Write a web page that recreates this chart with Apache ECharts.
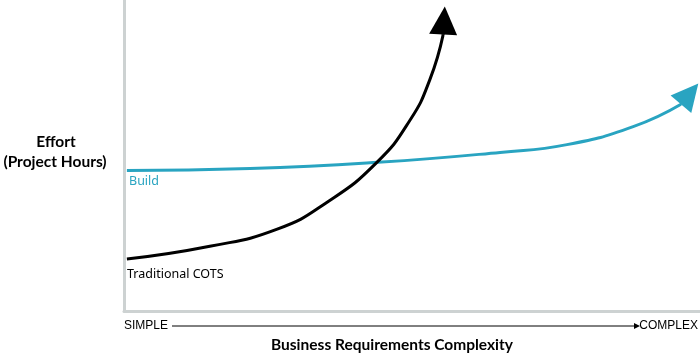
<!DOCTYPE html>
<html>
<head>
<meta charset="utf-8">
<script src="https://cdn.jsdelivr.net/npm/echarts@6/dist/echarts.min.js"></script>
<style>html,body{margin:0;padding:0;background:#fff;}#c{width:700px;height:356px;}</style>
</head>
<body>
<div id="c"></div>
<script>
// Complexity (0-100) vs Effort (0-100)
const seriesNames = ['Build', 'Traditional COTS'];
const buildX = [0.5, 21.9, 44.1, 65.3, 76.9, 88.4, 96.7];
const buildY = [45.2, 45.8, 47.8, 51.0, 53.5, 59.3, 66.5];
const buildArrow = [[96.7, 66.5], [98.2, 69.8]];
const cotsX = [0.5, 14.9, 26.6, 35.2, 43.9, 49.7, 53.1, 55.4];
const cotsY = [16.7, 20.8, 26.3, 34.9, 47.8, 61.5, 74.4, 88.8];
const cotsArrow = [[55.4, 88.8], [55.55, 93.4]];
const xLabels = ['SIMPLE', 'COMPLEX'];
const xTitle = 'Business Requirements Complexity';
const yTitle = ['Effort', '(Project Hours)'];

const TEAL = '#29a4c1';
const zip = (xs, ys) => xs.map((x, i) => [x, ys[i]]);

const chart = echarts.init(document.getElementById('c'), null, {renderer: 'canvas'});
chart.setOption({
  animation: false,
  grid: {left: 124, right: 0, top: 0, bottom: 45},
  xAxis: {
    type: 'value', min: 0, max: 100,
    axisLine: {show: true, lineStyle: {color: '#cdd2d2', width: 3}},
    axisTick: {show: false}, axisLabel: {show: false}, splitLine: {show: false}
  },
  yAxis: {
    type: 'value', min: 0, max: 100,
    axisLine: {show: true, lineStyle: {color: '#cdd2d2', width: 3}},
    axisTick: {show: false}, axisLabel: {show: false}, splitLine: {show: false}
  },
  series: [
    {
      name: seriesNames[0], type: 'line', data: zip(buildX, buildY),
      smooth: 0.5, symbol: 'none',
      lineStyle: {color: TEAL, width: 3}
    },
    {
      name: seriesNames[1], type: 'line', data: zip(cotsX, cotsY),
      smooth: 0.5, symbol: 'none',
      lineStyle: {color: '#000', width: 3}
    },
    {
      type: 'lines', coordinateSystem: 'cartesian2d',
      symbol: ['none', 'triangle'], symbolSize: [15, 27],
      lineStyle: {color: TEAL, width: 3, opacity: 1}, itemStyle: {color: TEAL, opacity: 1},
      data: [{coords: buildArrow}]
    },
    {
      type: 'lines', coordinateSystem: 'cartesian2d',
      symbol: ['none', 'triangle'], symbolSize: [15, 28],
      lineStyle: {color: '#000', width: 3, opacity: 1}, itemStyle: {color: '#000', opacity: 1},
      data: [{coords: cotsArrow}]
    }
  ],
  graphic: [
    {type: 'text', x: 56, y: 142, style: {text: yTitle[0], font: 'bold 15.5px Lato', fill: '#000', align: 'center', verticalAlign: 'middle'}},
    {type: 'text', x: 55, y: 162, style: {text: yTitle[1], font: 'bold 15.5px Lato', fill: '#000', align: 'center', verticalAlign: 'middle'}},
    {type: 'text', x: 129, y: 181, style: {text: seriesNames[0], font: '12.5px "Noto Sans"', fill: TEAL, align: 'left', verticalAlign: 'middle'}},
    {type: 'text', x: 127, y: 274, style: {text: seriesNames[1], font: '12.5px "Noto Sans"', fill: '#000', align: 'left', verticalAlign: 'middle'}},
    {type: 'text', x: 124, y: 326, style: {text: xLabels[0], font: '12px "Liberation Sans"', fill: '#000', align: 'left', verticalAlign: 'middle'}},
    {type: 'text', x: 698, y: 326, style: {text: xLabels[1], font: '12px "Liberation Sans"', fill: '#000', align: 'right', verticalAlign: 'middle'}},
    {type: 'line', shape: {x1: 172, y1: 326, x2: 636, y2: 326}, style: {stroke: '#000', lineWidth: 1}},
    {type: 'polygon', shape: {points: [[634, 323], [640, 326], [634, 329]]}, style: {fill: '#000'}},
    {type: 'text', x: 392, y: 345, style: {text: xTitle, font: 'bold 15.5px Lato', fill: '#000', align: 'center', verticalAlign: 'middle'}}
  ]
});
</script>
</body>
</html>
